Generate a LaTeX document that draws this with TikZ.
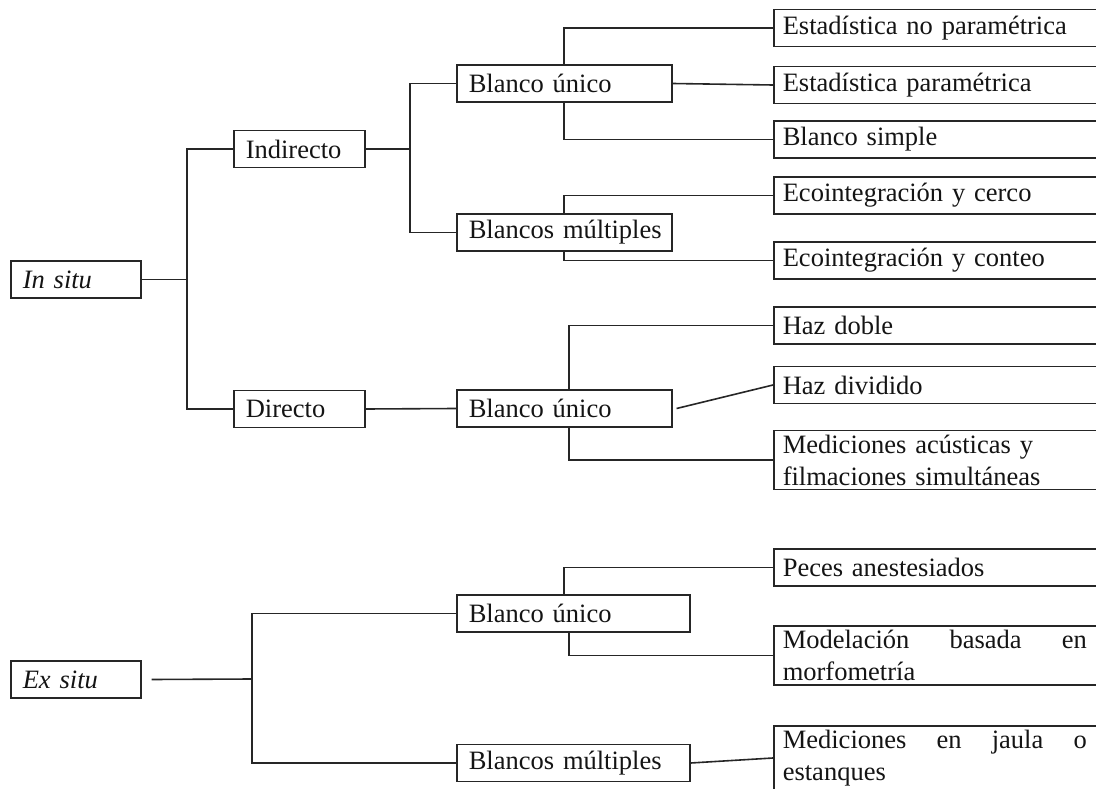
\documentclass[tikz,border=0pt]{standalone}
\usepackage{fontspec}
\setmainfont{Liberation Serif}
\usepackage{tikz}
\usetikzlibrary{positioning}

\tikzset{
    link/.style={draw=black!85, line width=1.6pt},
    box/.style={draw=black!85, line width=1.6pt, rectangle, anchor=west,
        align=left, minimum height=37pt, inner ysep=4pt, inner xsep=12pt,
        text=black!92, font=\fontsize{26.5}{32}\selectfont},
    rootbox/.style={box, text width=106pt},
    midbox/.style={box, text width=107pt},
    catbox/.style={box, text width=191pt},
    widebox/.style={box, text width=209pt},
    leafbox/.style={box, inner xsep=9pt, text width=320pt}
}

\begin{document}
\begin{tikzpicture}[x=1pt, y=-1pt]

    \useasboundingbox (0,0) rectangle (1096,789);

    % Root boxes
    \node[rootbox] (insitu) at (10,279.5) {\textit{In situ}};
    \node[rootbox] (exsitu) at (10,679.5) {\textit{Ex situ}};

    % Second level
    \node[midbox] (indirecto) at (233,149) {Indirecto};
    \node[midbox] (directo) at (233,409) {Directo};

    % Third level
    \node[catbox] (bu1) at (456,83.5) {Blanco único};
    \node[catbox] (bm1) at (456,232.5) {\mbox{Blancos múltiples}};
    \node[catbox] (bu2) at (456,408.5) {Blanco único};
    \node[widebox] (bu3) at (456,613.5) {Blanco único};
    \node[widebox] (bm2) at (456,763) {\mbox{Blancos múltiples}};

    % Methods
    \node[leafbox] (enp) at (773,28) {Estadística no paramétrica};
    \node[leafbox] (ep) at (773,85) {Estadística paramétrica};
    \node[leafbox] (bs) at (773,139.5) {Blanco simple};
    \node[leafbox] (eci) at (773,195.5) {Ecointegración y cerco};
    \node[leafbox] (ect) at (773,260.5) {Ecointegración y conteo};
    \node[leafbox] (hdo) at (773,325.5) {Haz doble};
    \node[leafbox] (hdi) at (773,385) {Haz dividido};
    \node[leafbox] (mac) at (773,460) {Mediciones acústicas y\\filmaciones simultáneas};
    \node[leafbox] (pa) at (773,567.5) {Peces anestesiados};
    \node[leafbox] (mm) at (773,655.5) {\makebox[304pt]{Modelación\hfill basada\hfill en}\\morfometría};
    \node[leafbox] (mj) at (773,758) {\makebox[304pt]{Mediciones\hfill en\hfill jaula\hfill o}\\estanques};

    % Split points
    \coordinate (insplit) at (187,279.5);
    \coordinate (indsplit) at (410,149);
    \coordinate (exsplit) at (252,679);

    % In situ branch
    \draw[link] (insitu.east) -- (insplit);
    \draw[link] (indirecto.west) -| (insplit) |- (directo.west);
    \draw[link] (indirecto.east) -- (indsplit);
    \draw[link] (bu1.west) -| (indsplit) |- (bm1.west);
    \draw[link] (directo.east) -- (bu2.west);

    \draw[link] ([xshift=108pt]bu1.north west) |- (enp.west);
    \draw[link] (bu1.east) -- (ep.west);
    \draw[link] ([xshift=108pt]bu1.south west) |- (bs.west);

    \draw[link] ([xshift=108pt]bm1.north west) |- (eci.west);
    \draw[link] ([xshift=108pt]bm1.south west) |- (ect.west);

    \draw[link] ([xshift=113pt]bu2.north west) |- (hdo.west);
    \draw[link] ([xshift=4pt]bu2.east) -- (hdi.west);
    \draw[link] ([xshift=113pt]bu2.south west) |- (mac.west);

    % Ex situ branch
    \draw[link] ([xshift=10pt]exsitu.east) -- (exsplit);
    \draw[link] (bu3.west) -| (exsplit) |- (bm2.west);
    \draw[link, line width=2.6pt] ([yshift=47pt]exsplit) -- ([yshift=28pt]exsplit);

    \draw[link] ([xshift=108pt]bu3.north west) |- (pa.west);
    \draw[link] ([xshift=113pt]bu3.south west) |- (mm.west);
    \draw[link] (bm2.east) -- (mj.west);

\end{tikzpicture}
\end{document}
